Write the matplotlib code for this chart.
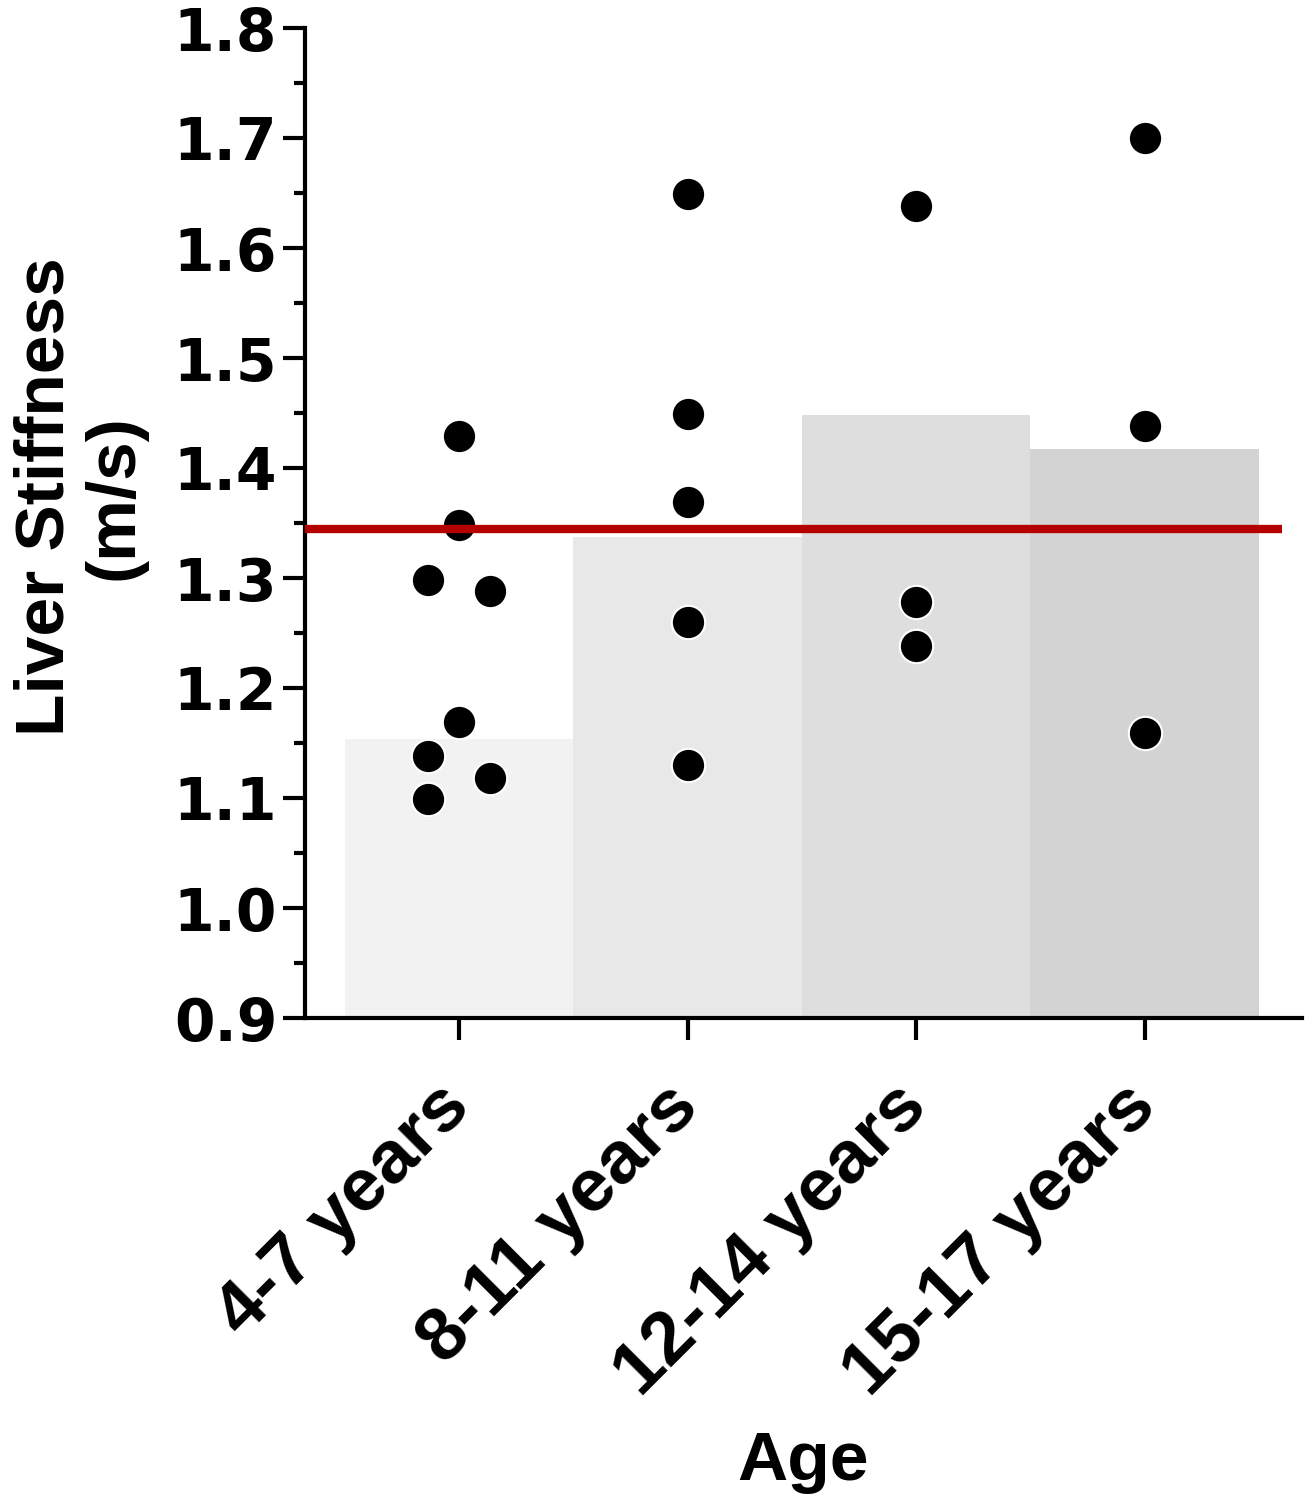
import numpy as np
import matplotlib
matplotlib.use("Agg")
import matplotlib.pyplot as plt
from matplotlib.ticker import MultipleLocator, FormatStrFormatter

# data
groups = ["4-7 years", "8-11 years", "12-14 years", "15-17 years"]
means = [1.154, 1.337, 1.448, 1.417]
g1 = [1.429, 1.348, 1.298, 1.288, 1.169, 1.138, 1.118, 1.099]
g2 = [1.649, 1.449, 1.369, 1.260, 1.130]
g3 = [1.638, 1.278, 1.238]
g4 = [1.700, 1.438, 1.159]
points = [g1, g2, g3, g4]
ref_value = 1.345

bar_colors = ["#f2f2f2", "#e8e8e8", "#dedede", "#d3d3d3"]


def swarm_offsets(vals, gap=0.025, step=0.136):
    # points closer than gap are pushed left/right in turn
    vals = np.asarray(vals)
    order = np.argsort(vals)
    sv = vals[order]
    offs = np.zeros(len(vals))
    k = 0
    for j, idx in enumerate(order):
        close = (j > 0 and sv[j] - sv[j - 1] < gap) or \
                (j < len(sv) - 1 and sv[j + 1] - sv[j] < gap)
        if close:
            offs[idx] = -step if k % 2 == 0 else step
            k += 1
    return offs


fig = plt.figure(figsize=(13.07, 15.07), dpi=100)
ax = fig.add_axes([305 / 1307, 1 - 1018 / 1507, 997 / 1307, 990 / 1507])

x = np.arange(len(groups))
ax.bar(x, np.array(means) - 0.9, bottom=0.9, width=1.0, color=bar_colors,
       linewidth=0, zorder=1)

for i, vals in enumerate(points):
    xs = i + swarm_offsets(vals)
    ax.scatter(xs, vals, s=24 ** 2, color="black", edgecolor="white",
               linewidth=1.5, zorder=2, clip_on=False)

ax.hlines(ref_value, -0.674, 3.60, color="#b40000", linewidth=6, zorder=3)

ax.set_xlim(-0.674, 3.689)
ax.set_ylim(0.9, 1.8)

for s in ["top", "right"]:
    ax.spines[s].set_visible(False)
for s in ["left", "bottom"]:
    ax.spines[s].set_linewidth(3)

ax.yaxis.set_major_locator(MultipleLocator(0.1))
ax.yaxis.set_minor_locator(MultipleLocator(0.05))
ax.yaxis.set_major_formatter(FormatStrFormatter("%.1f"))
ax.tick_params(axis="y", which="major", length=16, width=3, pad=4)
ax.tick_params(axis="y", which="minor", length=8, width=3)
for lab in ax.get_yticklabels():
    lab.set_fontfamily("DejaVu Sans")
    lab.set_fontweight("bold")
    lab.set_fontsize(42)

ax.set_xticks(x)
ax.set_xticklabels(groups, rotation=45, ha="right", va="center",
                   rotation_mode="anchor", fontfamily="Liberation Sans",
                   fontweight="bold", fontsize=54)
ax.tick_params(axis="x", length=16, width=3, pad=40)

fig.text(80 / 1307, 1 - 497 / 1507, "Liver Stiffness\n(m/s)", rotation=90,
         ha="center", va="center", multialignment="center",
         fontfamily="Liberation Sans", fontweight="bold", fontsize=50,
         linespacing=1.1)
fig.text(803 / 1307, 1 - 1462 / 1507, "Age", ha="center", va="center",
         fontfamily="Liberation Sans", fontweight="bold", fontsize=50)

fig.savefig("out.png", dpi=100)
